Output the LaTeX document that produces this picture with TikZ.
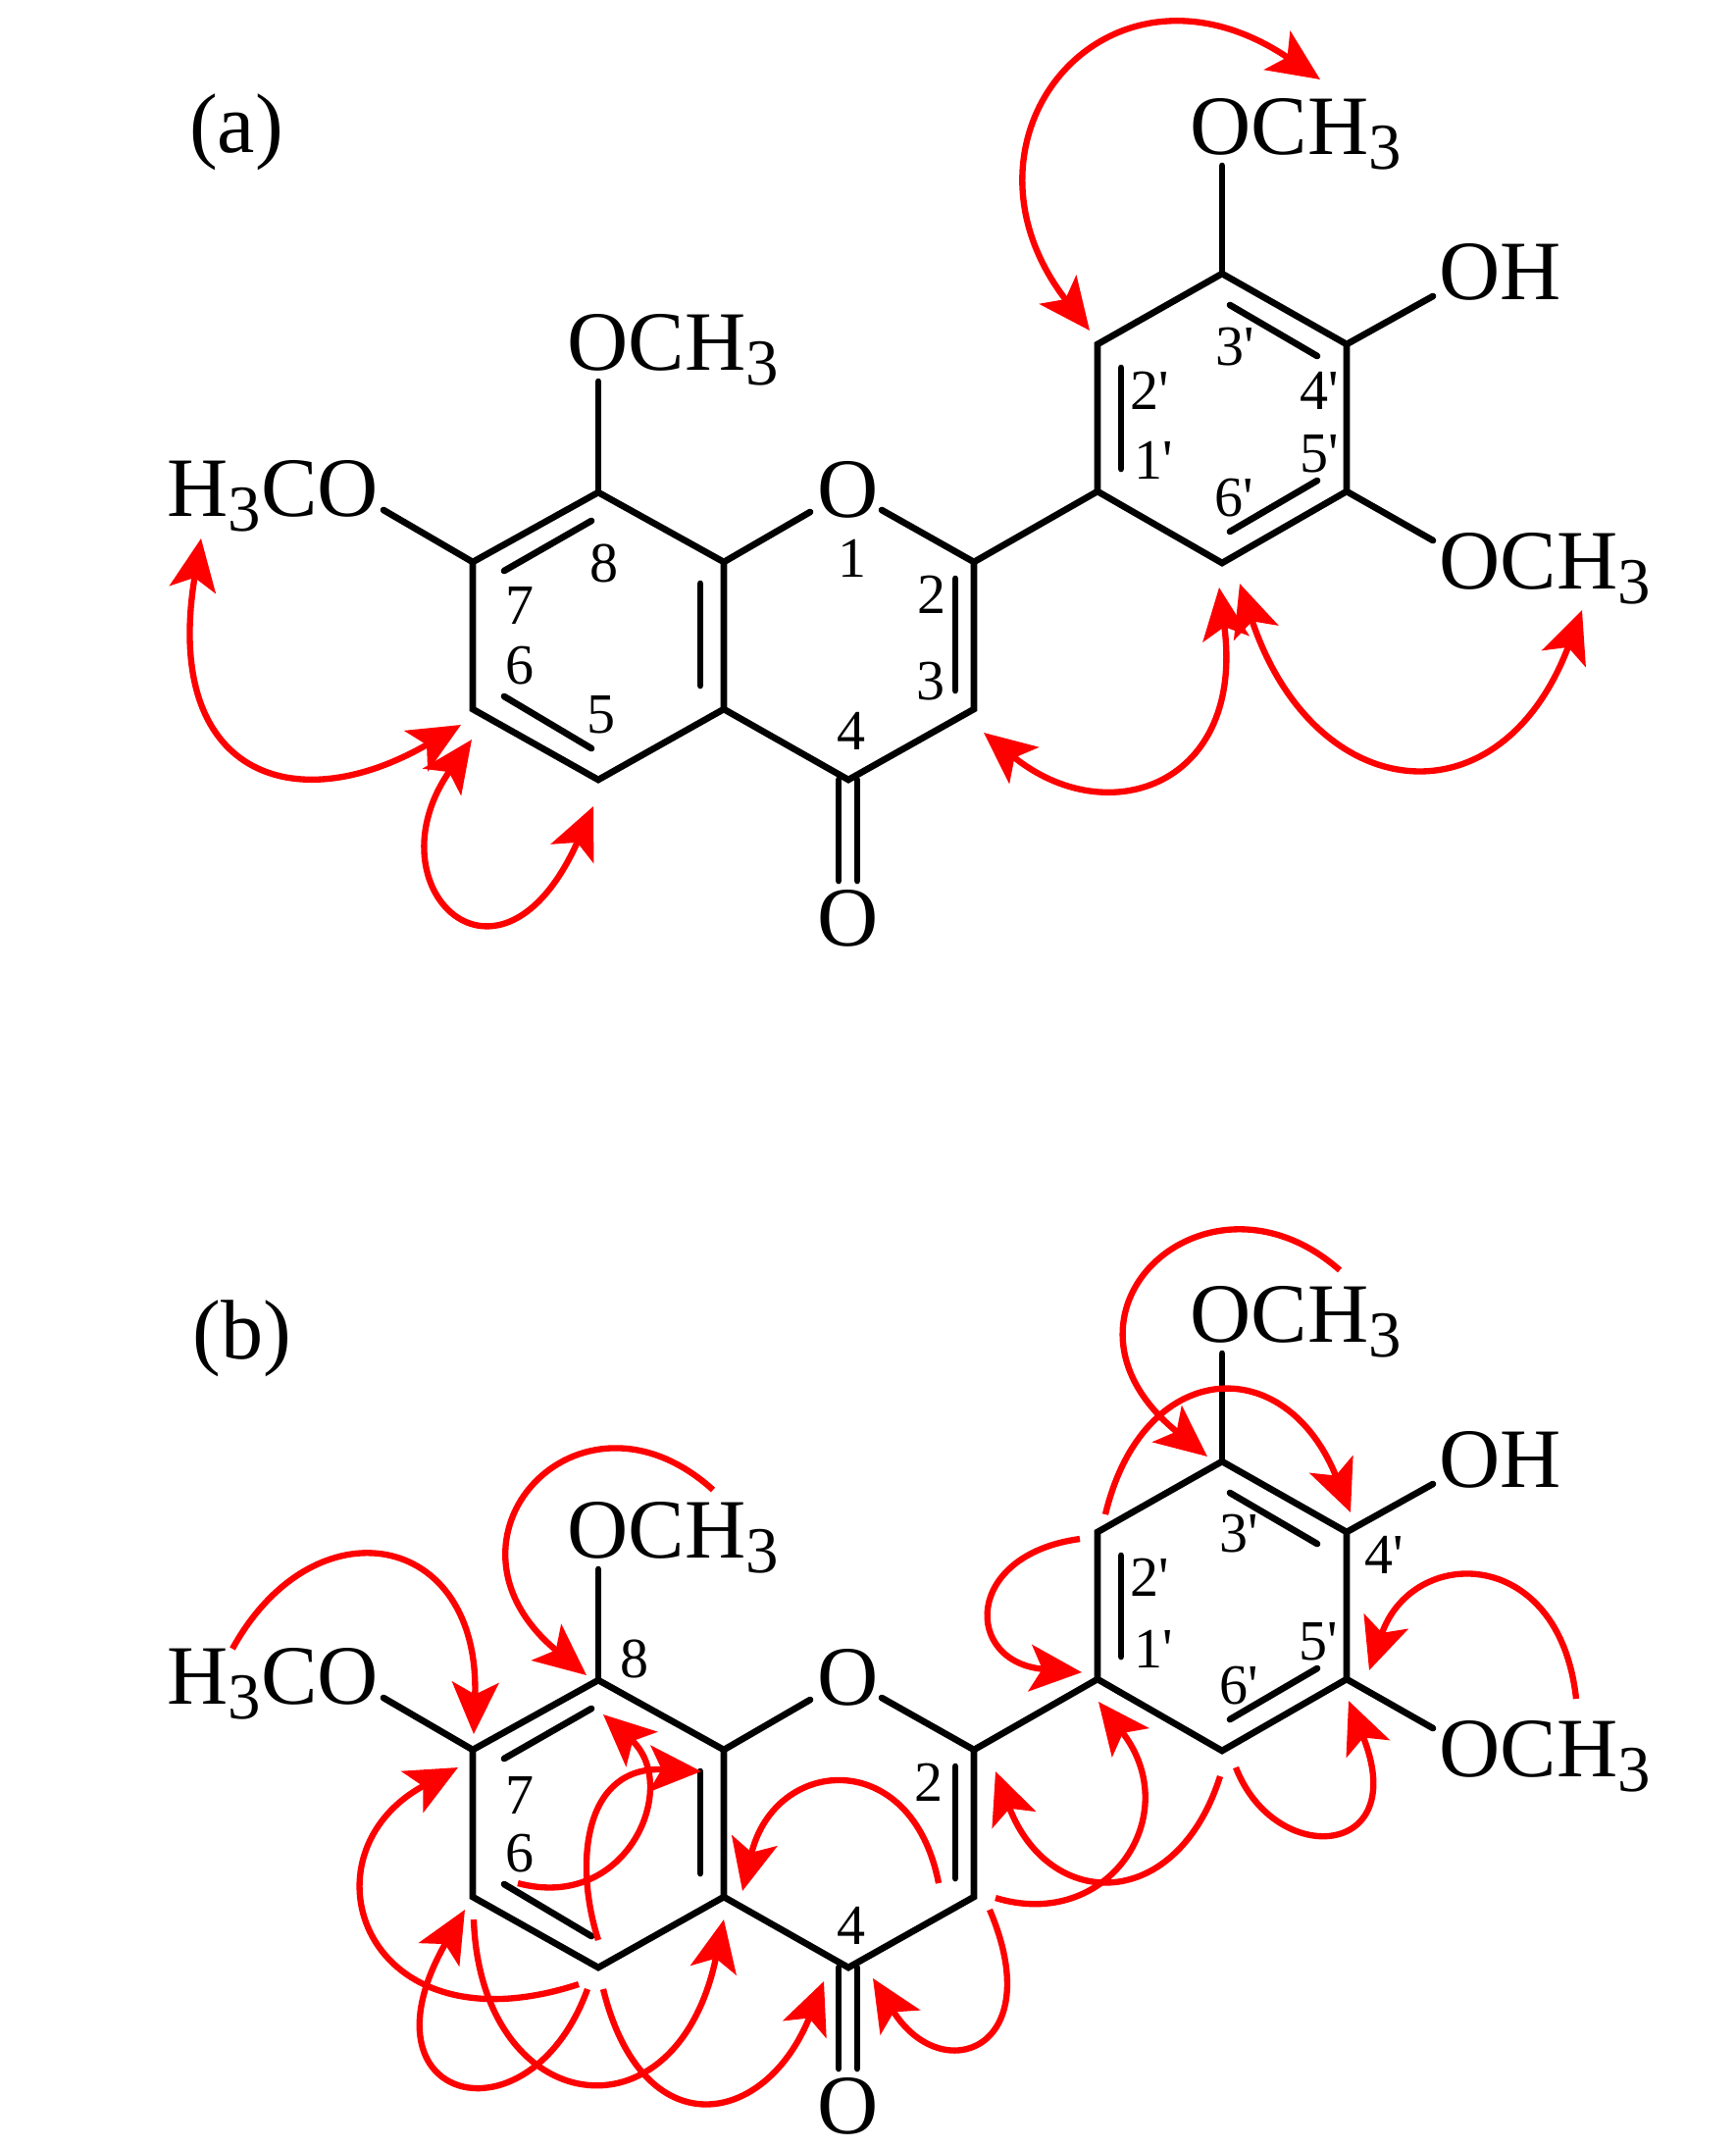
\documentclass[tikz,border=0pt]{standalone}
\usepackage{xcolor}
\usepackage{fontspec}
\setmainfont{Liberation Serif}
\usetikzlibrary{arrows.meta}

\newcommand{\subthree}{\raisebox{-4.5pt}{\fontsize{19}{19}\selectfont 3}}
\newcommand{\pr}{\textquotesingle}

\tikzset{
    bond/.style={line width=1.9pt, line cap=round},
    atom/.style={inner sep=0pt, anchor=base west, font=\fontsize{24.5}{26}\selectfont},
    locant/.style={inner sep=0pt, font=\fontsize{16.5}{18}\selectfont},
    corr/.style={red, line width=1.8pt},
    >={Stealth[length=15pt,width=13.5pt,inset=3.5pt]}
}

% one molecule, #1 is the prefix of all its names
\newcommand{\flavone}[1]{
    \coordinate (#1c7) at (482,573);
    \coordinate (#1c8) at (610,502);
    \coordinate (#1c8a) at (738,573);
    \coordinate (#1c4a) at (738,723);
    \coordinate (#1c5) at (610,795);
    \coordinate (#1c6) at (482,723);
    \coordinate (#1c4) at (865,795);
    \coordinate (#1c3) at (993,723);
    \coordinate (#1c2) at (993,573);
    \coordinate (#1c1p) at (1119,501);
    \coordinate (#1c2p) at (1119,351);
    \coordinate (#1c3p) at (1246,279);
    \coordinate (#1c4p) at (1373,351);
    \coordinate (#1c5p) at (1373,501);
    \coordinate (#1c6p) at (1246,574);

    \node[atom] (#1och) at (578,377) {OCH\subthree};
    \node[atom] (#1hco) at (170,526) {H\subthree CO};
    \node[atom, anchor=base] (#1o) at (865,527) {O};
    \node[atom, anchor=base] (#1oc) at (865,964) {O};
    \node[atom] (#1ochp) at (1213,157) {OCH\subthree};
    \node[atom] (#1oh) at (1467,305) {OH};
    \node[atom] (#1ochq) at (1467,600) {OCH\subthree};

    % free ends of the bonds to the labels
    \coordinate (#1e8) at (610,389);
    \coordinate (#1e7) at (391,520);
    \coordinate (#1e1) at (826,522);
    \coordinate (#1e2) at (899,520);
    \coordinate (#1e3p) at (1246,169);
    \coordinate (#1e4p) at (1461,302);
    \coordinate (#1e5p) at (1461,551);

    \draw[bond] (#1c7) -- (#1c8) -- (#1c8a) -- (#1c4a) -- (#1c5) -- (#1c6) -- cycle;
    \draw[bond] (#1c4a) -- (#1c4) -- (#1c3) -- (#1c2);
    \draw[bond] (#1c2) -- (#1c1p);
    \draw[bond] (#1c1p) -- (#1c2p) -- (#1c3p) -- (#1c4p) -- (#1c5p) -- (#1c6p) -- cycle;
    \draw[bond] (#1c8) -- (#1e8);
    \draw[bond] (#1c7) -- (#1e7);
    \draw[bond] (#1c8a) -- (#1e1);
    \draw[bond] (#1c2) -- (#1e2);
    \draw[bond] (#1c3p) -- (#1e3p);
    \draw[bond] (#1c4p) -- (#1e4p);
    \draw[bond] (#1c5p) -- (#1e5p);

    % inner lines of the double bonds
    \coordinate (#1i1) at (514,582); \coordinate (#1i2) at (603,531);
    \coordinate (#1i3) at (514,710); \coordinate (#1i4) at (603,763);
    \coordinate (#1i5) at (714,595); \coordinate (#1i6) at (714,699);
    \coordinate (#1i7) at (974,590); \coordinate (#1i8) at (974,704);
    \coordinate (#1i9) at (1143,375); \coordinate (#1i10) at (1143,478);
    \coordinate (#1i11) at (1254,311); \coordinate (#1i12) at (1343,363);
    \coordinate (#1i13) at (1343,490); \coordinate (#1i14) at (1254,542);
    \coordinate (#1i15) at (855,795); \coordinate (#1i16) at (855,898);
    \coordinate (#1i17) at (874,795); \coordinate (#1i18) at (874,898);
    \draw[bond] (#1i1) -- (#1i2);
    \draw[bond] (#1i3) -- (#1i4);
    \draw[bond] (#1i5) -- (#1i6);
    \draw[bond] (#1i7) -- (#1i8);
    \draw[bond] (#1i9) -- (#1i10);
    \draw[bond] (#1i11) -- (#1i12);
    \draw[bond] (#1i13) -- (#1i14);
    \draw[bond] (#1i15) -- (#1i16);
    \draw[bond] (#1i17) -- (#1i18);
}

\begin{document}
\begin{tikzpicture}[x=0.01cm, y=-0.01cm]
    \useasboundingbox (0,0) rectangle (1770,2190);

    % (a)
    \node[atom, anchor=base] (tagA) at (241,155) {(a)};
    \flavone{a}
    \node[locant] (a8) at (616,574) {8};
    \node[locant] (a7) at (530,617) {7};
    \node[locant] (a6) at (530,679) {6};
    \node[locant] (a5) at (613,729) {5};
    \node[locant] (a1) at (869,569) {1};
    \node[locant] (a2) at (950,606) {2};
    \node[locant] (a3) at (949,695) {3};
    \node[locant] (a4) at (868,745) {4};
    \node[locant] (a2p) at (1172,398) {2\pr};
    \node[locant] (a1p) at (1176,469) {1\pr};
    \node[locant] (a3p) at (1259,354) {3\pr};
    \node[locant] (a4p) at (1345,398) {4\pr};
    \node[locant] (a5p) at (1345,463) {5\pr};
    \node[locant] (a6p) at (1258,508) {6\pr};

    \coordinate (p1) at (205,549); \coordinate (q1) at (470,739);
    \coordinate (p2) at (481,754); \coordinate (q2) at (605,822);
    \coordinate (p3) at (1003,747); \coordinate (q3) at (1243,599);
    \coordinate (p4) at (1264,595); \coordinate (q4) at (1613,622);
    \coordinate (p5) at (1346,81); \coordinate (q5) at (1111,337);
    \draw[corr,<->] (p1) .. controls (165,790) and (300,838) .. (q1);
    \draw[corr,<->] (p2) .. controls (375,905) and (510,1035) .. (q2);
    \draw[corr,<->] (p3) .. controls (1130,850) and (1270,800) .. (q3);
    \draw[corr,<->] (p4) .. controls (1340,823) and (1530,843) .. (q4);
    \draw[corr,<->] (p5) .. controls (1130,-65) and (958,140) .. (q5);

    % (b)
    \node[atom, anchor=base] (tagB) at (247,1385) {(b)};
    \begin{scope}[shift={(0,1211)}]
        \flavone{b}
    \end{scope}
    \node[locant] (b8) at (647,1691) {8};
    \node[locant] (b7) at (530,1830) {7};
    \node[locant] (b6) at (530,1890) {6};
    \node[locant] (b2) at (947,1817) {2};
    \node[locant] (b4) at (868,1963) {4};
    \node[locant] (b2p) at (1172,1608) {2\pr};
    \node[locant] (b1p) at (1176,1681) {1\pr};
    \node[locant] (b3p) at (1263,1564) {3\pr};
    \node[locant] (b4p) at (1411,1585) {4\pr};
    \node[locant] (b5p) at (1344,1674) {5\pr};
    \node[locant] (b6p) at (1263,1719) {6\pr};

    \coordinate (r1) at (237,1681); \coordinate (s1) at (483,1768);
    \coordinate (r2) at (727,1519); \coordinate (s2) at (598,1708);
    \coordinate (r3) at (590,2023); \coordinate (s3) at (467,1802);
    \coordinate (r4) at (599,2028); \coordinate (s4) at (474,1947);
    \coordinate (r5) at (483,1957); \coordinate (s5) at (738,1957);
    \coordinate (r6) at (615,2028); \coordinate (s6) at (840,2020);
    \coordinate (r7) at (1009,1947); \coordinate (s7) at (890,2017);
    \coordinate (r8) at (957,1920); \coordinate (s8) at (757,1928);
    \coordinate (r9) at (610,1978); \coordinate (s9) at (715,1806);
    \coordinate (r10) at (528,1920); \coordinate (s10) at (615,1748);
    \coordinate (r11) at (1366,1295); \coordinate (s11) at (1231,1485);
    \coordinate (r12) at (1127,1544); \coordinate (s12) at (1377,1542);
    \coordinate (r13) at (1101,1569); \coordinate (s13) at (1103,1705);
    \coordinate (r14) at (1607,1732); \coordinate (s14) at (1396,1703);
    \coordinate (r15) at (1260,1802); \coordinate (s15) at (1375,1734);
    \coordinate (r16) at (1244,1811); \coordinate (s16) at (1015,1806);
    \coordinate (r17) at (1015,1935); \coordinate (s17) at (1120,1735);
    \draw[corr,->] (r1) .. controls (320,1530) and (490,1560) .. (s1);
    \draw[corr,->] (r2) .. controls (590,1395) and (430,1570) .. (s2);
    \draw[corr,->] (r3) .. controls (370,2095) and (302,1890) .. (s3);
    \draw[corr,->] (r4) .. controls (540,2190) and (360,2145) .. (s4);
    \draw[corr,->] (r5) .. controls (490,2160) and (690,2190) .. (s5);
    \draw[corr,->] (r6) .. controls (655,2190) and (780,2170) .. (s6);
    \draw[corr,->] (r7) .. controls (1070,2090) and (960,2130) .. (s7);
    \draw[corr,->] (r8) .. controls (930,1780) and (790,1790) .. (s8);
    \draw[corr,->] (r9) .. controls (585,1900) and (595,1800) .. (s9);
    \draw[corr,->] (r10) .. controls (640,1950) and (695,1820) .. (s10);
    \draw[corr,->] (r11) .. controls (1230,1175) and (1052,1340) .. (s11);
    \draw[corr,->] (r12) .. controls (1165,1385) and (1310,1375) .. (s12);
    \draw[corr,->] (r13) .. controls (982,1585) and (982,1695) .. (s13);
    \draw[corr,->] (r14) .. controls (1590,1575) and (1440,1575) .. (s14);
    \draw[corr,->] (r15) .. controls (1300,1905) and (1440,1895) .. (s15);
    \draw[corr,->] (r16) .. controls (1200,1950) and (1070,1950) .. (s16);
    \draw[corr,->] (r17) .. controls (1130,1970) and (1210,1850) .. (s17);
\end{tikzpicture}
\end{document}
